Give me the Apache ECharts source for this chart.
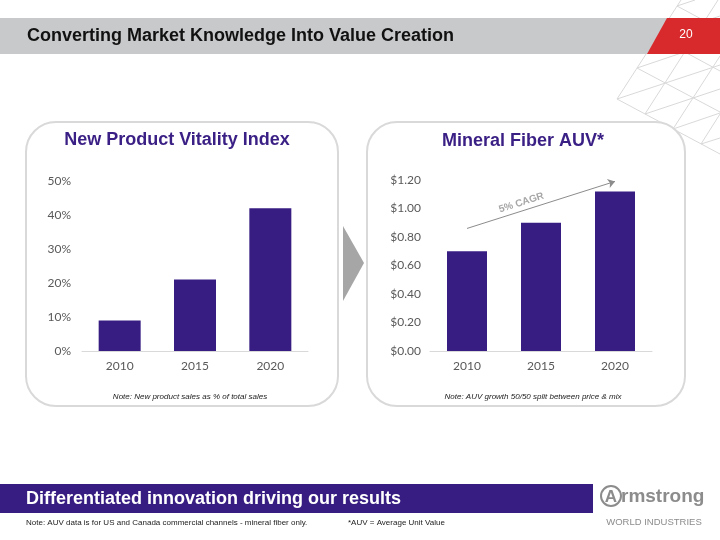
<!DOCTYPE html>
<html>
<head>
    <meta charset="utf-8">
    <title>Converting Market Knowledge Into Value Creation</title>
    <script src="https://cdn.jsdelivr.net/npm/echarts@6/dist/echarts.min.js"></script>
    <style>
        html, body { margin: 0; padding: 0; background: #fff; }
        #main { width: 720px; height: 540px; }
    </style>
</head>
<body>
<div id="main"></div>

<script type="text/javascript">
    // data
    var years = ['2010', '2015', '2020'];
    var vitality = [9, 21, 42];          // new product sales, % of total
    var auv = [0.70, 0.90, 1.12];        // mineral fiber AUV, $
    var cagrFrom = ['2010', 0.86];
    var cagrTo = ['2020', 1.19];

    var purple = '#371d82';
    var axisText = '#595959';

    // background lattice at the top right (decoration only)
    var lattice = [
        [617, 99, 681, 0], [645, 114, 718, 0], [673, 129, 720, 56], [701, 144, 720, 114],
        [617, 99, 720, 65], [637, 68, 720, 40], [657, 37, 720, 16], [677, 6, 695, 0],
        [645, 114, 720, 89], [673, 129, 720, 113], [701, 144, 720, 138],
        [617, 99, 720, 154], [637, 68, 720, 112], [657, 37, 720, 71], [677, 6, 720, 29]
    ];
    var latticeEls = lattice.map(function (l) {
        return {
            type: 'line', z: 0,
            shape: {x1: l[0], y1: l[1], x2: l[2], y2: l[3]},
            style: {stroke: '#d9d9d9', lineWidth: 1}
        };
    });

    var option = {
        animation: false,
        textStyle: {fontFamily: 'Lato, "Liberation Sans", sans-serif'},
        grid: [
            {left: 82, top: 181, width: 226, height: 170},
            {left: 430, top: 180, width: 222, height: 171}
        ],
        xAxis: [0, 1].map(function (i) {
            return {
                type: 'category', gridIndex: i, data: years, z: 4,
                axisLine: {lineStyle: {color: '#d9d9d9'}},
                axisTick: {show: false},
                axisLabel: {color: axisText, fontSize: 12, margin: 9}
            };
        }),
        yAxis: [
            {
                type: 'value', gridIndex: 0, min: 0, max: 50, interval: 10, z: 4,
                splitLine: {show: false},
                axisLabel: {color: axisText, fontSize: 12, margin: 11, formatter: '{value}%'}
            },
            {
                type: 'value', gridIndex: 1, min: 0, max: 1.2, interval: 0.2, z: 4,
                splitLine: {show: false},
                axisLabel: {
                    color: axisText, fontSize: 12, margin: 9,
                    formatter: function (v) { return '$' + v.toFixed(2); }
                }
            }
        ],
        series: [
            {
                type: 'bar', xAxisIndex: 0, yAxisIndex: 0, data: vitality,
                barWidth: 42, itemStyle: {color: purple}, z: 5
            },
            {
                type: 'bar', xAxisIndex: 1, yAxisIndex: 1, data: auv,
                barWidth: 40, itemStyle: {color: purple}, z: 5,
                markLine: {
                    silent: true,
                    symbol: ['none', 'arrow'],
                    symbolSize: 7,
                    lineStyle: {color: '#8c8c8c', width: 1, type: 'solid'},
                    label: {
                        show: true, position: 'middle', formatter: '5% CAGR',
                        color: '#a6a6a6', fontSize: 10, fontWeight: 'bold',
                        fontFamily: '"Liberation Sans", Arial, sans-serif',
                        distance: 3, padding: [0, 36, 0, 0]
                    },
                    data: [[{coord: cagrFrom}, {coord: cagrTo}]]
                }
            }
        ],
        graphic: latticeEls.concat([
            // header band
            {type: 'rect', z: 1, shape: {x: 0, y: 18, width: 720, height: 36}, style: {fill: '#c8c9cb'}},
            {type: 'polygon', z: 2, shape: {points: [[667, 18], [720, 18], [720, 54], [647, 54]]}, style: {fill: '#d82a2c'}},
            {type: 'text', z: 3, x: 27, y: 36, style: {
                text: 'Converting Market Knowledge Into Value Creation',
                font: 'bold 18px "Liberation Sans", Arial, sans-serif', fill: '#111', verticalAlign: 'middle'
            }},
            {type: 'text', z: 3, x: 686, y: 35, style: {
                text: '20', font: '12px "Liberation Sans Narrow", "Liberation Sans", sans-serif',
                fill: '#fff', align: 'center', verticalAlign: 'middle'
            }},
            // panels
            {type: 'rect', z: 1, shape: {x: 26, y: 122, width: 312, height: 284, r: 30},
                style: {fill: '#fff', stroke: '#d9d9d9', lineWidth: 2}},
            {type: 'rect', z: 1, shape: {x: 367, y: 122, width: 318, height: 284, r: 30},
                style: {fill: '#fff', stroke: '#d9d9d9', lineWidth: 2}},
            {type: 'text', z: 3, x: 177, y: 140, style: {
                text: 'New Product Vitality Index', font: 'bold 18px "Liberation Sans", Arial, sans-serif',
                fill: '#3a1f84', align: 'center', verticalAlign: 'middle'
            }},
            {type: 'text', z: 3, x: 523, y: 141, style: {
                text: 'Mineral Fiber AUV*', font: 'bold 18px "Liberation Sans", Arial, sans-serif',
                fill: '#3a1f84', align: 'center', verticalAlign: 'middle'
            }},
            {type: 'text', z: 3, x: 190, y: 397, style: {
                text: 'Note: New product sales as % of total sales',
                font: 'italic 8px "Liberation Sans", Arial, sans-serif', fill: '#222',
                align: 'center', verticalAlign: 'middle'
            }},
            {type: 'text', z: 3, x: 533, y: 397, style: {
                text: 'Note: AUV growth 50/50 split between price & mix',
                font: 'italic 8px "Liberation Sans", Arial, sans-serif', fill: '#222',
                align: 'center', verticalAlign: 'middle'
            }},
            // chevron between the panels
            {type: 'polygon', z: 2, shape: {points: [[343, 226], [364, 263], [343, 301]]}, style: {fill: '#a6a6a6'}},
            // bottom band
            {type: 'rect', z: 1, shape: {x: 0, y: 484, width: 593, height: 29}, style: {fill: '#371d82'}},
            {type: 'text', z: 3, x: 26, y: 499, style: {
                text: 'Differentiated innovation driving our results',
                font: 'bold 18px "Liberation Sans", Arial, sans-serif', fill: '#fff', verticalAlign: 'middle'
            }},
            {type: 'text', z: 3, x: 26, y: 523, style: {
                text: 'Note: AUV data is for US and Canada commercial channels - mineral fiber only.',
                font: '8px "Liberation Sans", Arial, sans-serif', fill: '#222', verticalAlign: 'middle'
            }},
            {type: 'text', z: 3, x: 348, y: 523, style: {
                text: '*AUV = Average Unit Value',
                font: '8px "Liberation Sans", Arial, sans-serif', fill: '#222', verticalAlign: 'middle'
            }},
            // logo
            {type: 'circle', z: 3, shape: {cx: 611, cy: 496, r: 10}, style: {fill: 'none', stroke: '#8c8c8c', lineWidth: 2}},
            {type: 'text', z: 3, x: 611, y: 497, style: {
                text: 'A', font: 'bold 17px "Liberation Sans", Arial, sans-serif', fill: '#8c8c8c',
                align: 'center', verticalAlign: 'middle'
            }},
            {type: 'text', z: 3, x: 621, y: 497, style: {
                text: 'rmstrong', font: 'bold 19px "Liberation Sans", Arial, sans-serif', fill: '#8c8c8c',
                verticalAlign: 'middle'
            }},
            {type: 'text', z: 3, x: 654, y: 522, style: {
                text: 'WORLD INDUSTRIES', font: '9.5px "Liberation Sans", Arial, sans-serif', fill: '#8c8c8c',
                align: 'center', verticalAlign: 'middle'
            }}
        ])
    };

    var myChart = echarts.init(document.getElementById('main'));
    myChart.setOption(option);
</script>
</body>
</html>
